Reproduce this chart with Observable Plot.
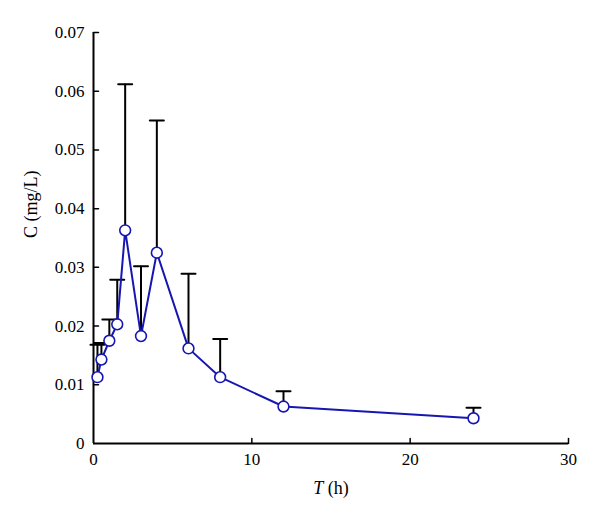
<!DOCTYPE html>
<html>
<head>
<meta charset="utf-8">
<script src="https://cdn.jsdelivr.net/npm/d3@7"></script>
<script src="https://cdn.jsdelivr.net/npm/@observablehq/plot@0.6"></script>
<style>
  html, body { margin: 0; padding: 0; background: #fff; }
  #chart { width: 600px; height: 521px; }
</style>
</head>
<body>
<div id="chart"></div>
<script>
// Data
const times = [0.25, 0.5, 1, 1.5, 2, 3, 4, 6, 8, 12, 24];           // T (h)
const means = [0.0113, 0.0143, 0.0175, 0.0203, 0.0363, 0.0183, 0.0325, 0.0162, 0.0113, 0.0063, 0.0043]; // C (mg/L)
const upper = [0.0168, 0.0171, 0.0211, 0.0279, 0.0612, 0.0302, 0.055, 0.0289, 0.0178, 0.0089, 0.0061]; // mean + SD
const xTicks = [0, 10, 20, 30];
const yTicks = [0, 0.01, 0.02, 0.03, 0.04, 0.05, 0.06, 0.07];
const yTickLabels = ["0", "0.01", "0.02", "0.03", "0.04", "0.05", "0.06", "0.07"];
const xTickLabels = ["0", "10", "20", "30"];

const data = times.map((t, i) => ({t, c: means[i], top: upper[i]}));

const blue = "#1616b2";
const tickShape = {draw(ctx, l) { ctx.moveTo(0, 0); ctx.lineTo(0, -l); }};
const capShape = {draw(ctx, l) { ctx.moveTo(-l / 2, 0); ctx.lineTo(l / 2, 0); }};

const chart = Plot.plot({
  width: 600,
  height: 521,
  marginLeft: 93,
  marginRight: 32,
  marginTop: 32,
  marginBottom: 78,
  x: {domain: [0, 30]},
  y: {domain: [0, 0.07]},
  style: {fontFamily: "'Liberation Serif', 'DejaVu Serif', serif", fontSize: "17px", color: "#000", background: "#fff"},
  marks: [
    Plot.axisY({ticks: yTicks, tickSize: 0, tickPadding: 9, tickFormat: (d) => yTickLabels[yTicks.indexOf(d)], label: null, fontSize: 17}),
    Plot.axisX({ticks: xTicks, tickSize: 0, tickPadding: 9, tickFormat: (d) => xTickLabels[xTicks.indexOf(d)], label: null, fontSize: 17}),
    // inward ticks
    Plot.vector(yTicks.filter(d => d > 0), {x: 0, y: d => d, length: 5, rotate: 90, anchor: "start", shape: tickShape, stroke: "#000", strokeWidth: 1.5}),
    Plot.vector(xTicks.filter(d => d > 0), {x: d => d, y: 0, length: 5, rotate: 0, anchor: "start", shape: tickShape, stroke: "#000", strokeWidth: 1.5}),
    // axis lines
    Plot.ruleX([0], {y1: 0, y2: 0.07, stroke: "#000", strokeWidth: 2}),
    Plot.ruleY([0], {x1: 0, x2: 30, stroke: "#000", strokeWidth: 2}),
    // axis titles
    Plot.text(["C (mg/L)"], {frameAnchor: "left", dx: -62, rotate: -90, fontSize: 18, fill: "#000", lineAnchor: "middle"}),
    Plot.text(["T (h)"], {frameAnchor: "bottom", dy: 45, fontSize: 18, fill: "#000", lineAnchor: "middle", className: "xtitle"}),
    // error bars
    Plot.ruleX(data, {x: "t", y1: "c", y2: "top", stroke: "#000", strokeWidth: 2}),
    Plot.vector(data, {x: "t", y: "top", length: 14, rotate: 0, anchor: "start", shape: capShape, stroke: "#000", strokeWidth: 2}),
    // mean curve
    Plot.line(data, {x: "t", y: "c", stroke: blue, strokeWidth: 2}),
    Plot.dot(data, {x: "t", y: "c", r: 5.4, fill: "#fff", stroke: blue, strokeWidth: 1.6})
  ]
});

document.getElementById("chart").appendChild(chart);

// italic T in x-axis title
const xt = chart.querySelector(".xtitle text");
if (xt) {
  xt.textContent = "";
  const ns = "http://www.w3.org/2000/svg";
  const a = document.createElementNS(ns, "tspan");
  a.setAttribute("font-style", "italic");
  a.textContent = "T";
  const b = document.createElementNS(ns, "tspan");
  b.textContent = " (h)";
  xt.appendChild(a);
  xt.appendChild(b);
}
</script>
</body>
</html>
